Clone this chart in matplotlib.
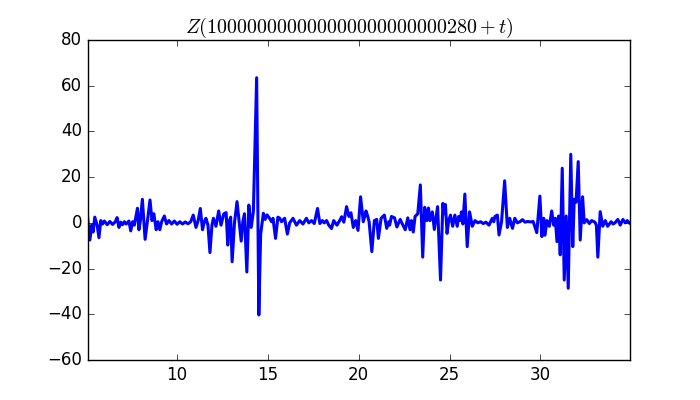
import matplotlib
matplotlib.use("Agg")
import matplotlib.pyplot as plt

t_vals = [5.0, 5.07, 5.2, 5.3, 5.38, 5.47, 5.6, 5.7, 5.8, 5.9, 6.0, 6.15, 6.3, 6.45, 6.6, 6.7, 6.8, 6.9,
          7.0, 7.1, 7.2, 7.35, 7.45, 7.55, 7.65, 7.72, 7.82, 7.9, 7.98, 8.09, 8.24, 8.38, 8.51, 8.62,
          8.72, 8.85, 8.95, 9.05, 9.15, 9.3, 9.42, 9.55, 9.7, 9.85, 10.0, 10.15, 10.3, 10.45, 10.6,
          10.75, 10.89, 11.04, 11.16, 11.28, 11.4, 11.5, 11.59, 11.7, 11.81, 11.92, 12.0, 12.14,
          12.29, 12.42, 12.57, 12.7, 12.79, 12.88, 12.95, 13.03, 13.16, 13.3, 13.42, 13.53, 13.62,
          13.71, 13.84, 13.95, 14.08, 14.2, 14.38, 14.5, 14.6, 14.75, 14.85, 14.95, 15.09, 15.2,
          15.28, 15.42, 15.55, 15.65, 15.75, 15.92, 16.07, 16.2, 16.38, 16.57, 16.75, 16.93, 17.12,
          17.25, 17.4, 17.55, 17.73, 17.86, 18.0, 18.1, 18.23, 18.35, 18.5, 18.62, 18.8, 18.95,
          19.06, 19.18, 19.33, 19.46, 19.57, 19.7, 19.83, 19.96, 20.1, 20.25, 20.4, 20.49, 20.57,
          20.72, 20.86, 20.99, 21.08, 21.23, 21.41, 21.54, 21.65, 21.7, 21.8, 21.97, 22.1, 22.28,
          22.4, 22.56, 22.7, 22.82, 22.9, 23.0, 23.1, 23.25, 23.39, 23.52, 23.63, 23.75, 23.84,
          23.92, 24.05, 24.16, 24.34, 24.5, 24.63, 24.7, 24.77, 24.86, 24.95, 25.05, 25.17, 25.29,
          25.42, 25.5, 25.6, 25.65, 25.73, 25.84, 25.97, 26.1, 26.25, 26.4, 26.55, 26.7, 26.85,
          27.0, 27.17, 27.35, 27.43, 27.5, 27.63, 27.72, 27.86, 28.03, 28.18, 28.31, 28.46, 28.59,
          28.73, 28.87, 29.01, 29.15, 29.3, 29.45, 29.6, 29.8, 29.97, 30.08, 30.18, 30.25, 30.36,
          30.49, 30.62, 30.73, 30.82, 30.91, 31.0, 31.09, 31.2, 31.31, 31.42, 31.53, 31.67, 31.78,
          31.86, 31.96, 32.08, 32.19, 32.32, 32.41, 32.55, 32.69, 32.82, 33.0, 33.08, 33.16, 33.29,
          33.43, 33.57, 33.7, 33.89, 34.0, 34.1, 34.26, 34.39, 34.54, 34.67, 34.78, 34.9, 35.0]

z_vals = [1.5, 3.0, -7.5, -1.0, -4.0, 2.5, -1.0, -6.5, 1.0, -0.5, 0.8, -0.8, 0.6, -0.7, 0.5, 2.3, -2.0, 0.3,
          -0.8, 0.5, -0.5, 0.8, -3.5, 0.5, -1.0, 2.0, 6.4, -3.0, 1.0, 10.3, -7.2, 1.5, 10.0, 1.0,
          4.0, -3.0, 0.5, -3.0, 0.5, 3.0, -0.5, 1.0, -0.5, 0.8, -0.6, 0.5, -0.5, 0.4, -0.4,
          0.5, 3.4, -2.0, 1.0, 6.3, -3.0, 0.5, 2.0, -1.0, -13.0, -1.0, 2.0, -1.5,
          5.2, -1.0, 3.9, 4.5, -9.7, 1.0, 2.5, -17.0, 0.0, 9.3, 0.5, -8.0, 0.5,
          4.0, -21.5, 7.8, -2.0, 5.0, 63.5, -40.3, -5.0, 4.2, 1.5, 3.5, 2.0, 0.5,
          2.0, -6.8, 2.5, 2.0, 0.5, 2.0, -4.9, 0.0, 2.0, -1.0, 1.0, -0.5, 2.0,
          0.0, 1.0, -0.3, 6.3, -0.3, 1.0, 0.0, 1.0, -1.0, -2.5, 1.0, -1.0, 1.0,
          2.7, 0.3, 7.1, 2.8, 4.4, -2.0, 1.0, -3.3, 11.4, 0.5, 5.2, 3.0, 0.5,
          -12.6, 1.0, 1.5, -6.8, 2.0, 3.4, -2.4, 0.5, -1.0, 2.8, 2.2, -1.8, 1.5,
          -0.5, -3.0, 2.2, -3.0, 1.0, -4.0, 2.8, 4.0, 16.6, -15.0, 6.8, 1.0, 6.5,
          1.0, 4.8, -2.9, 7.1, -25.0, 8.5, 4.0, 8.0, -4.6, 1.0, 3.4, -1.5, 3.4,
          -1.5, 2.8, 1.0, 4.8, -0.5, 12.6, -10.4, 4.8, -1.5, 1.0, 0.0, 0.5, -0.3,
          0.3, -1.0, 2.0, 0.5, 2.8, 3.4, -5.3, 0.5, 18.4, -2.0, 2.0, -2.4, 2.0,
          0.0, 0.5, 1.4, 0.3, 0.6, 0.4, 0.6, -4.3, 11.7, -6.0, 2.0, -5.4, 1.0,
          -1.5, 5.2, -1.0, 2.0, -8.2, 3.0, -14.0, 23.9, -25.0, 3.0, -28.6, 30.0, -10.4,
          10.3, 9.0, 26.8, -7.5, 11.4, 0.0, 1.4, -0.3, 1.0, 0.3, -1.0, -15.0, 4.9,
          -1.5, 1.0, -1.5, 0.5, -0.5, 0.0, 1.5, -1.0, 1.5, 0.0, 1.0, -0.2, 0.5]

title_text = r"$Z(100000000000000000000000280+t)$"

plt.style.use("classic")
fig = plt.figure(figsize=(7, 4), dpi=100)
ax = fig.add_subplot(111)
ax.plot(t_vals, z_vals, color="blue", linewidth=2.2)
ax.set_xlim(5.07, 34.93)
ax.set_ylim(-60, 80)
ax.set_title(title_text, x=0.4834)
fig.savefig("out.png", dpi=100)
